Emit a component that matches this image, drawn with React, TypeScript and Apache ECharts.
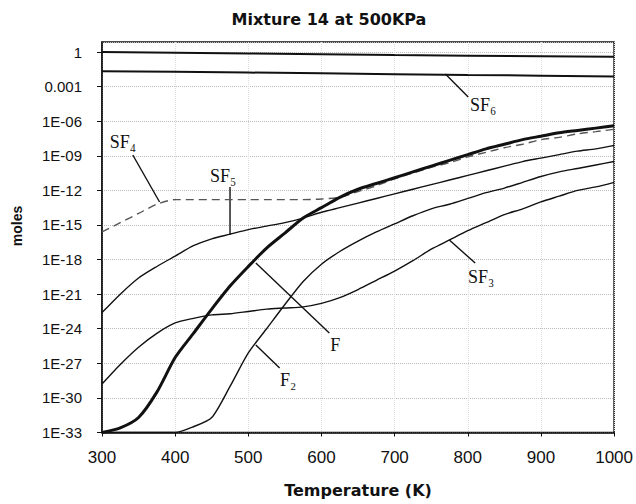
import React, { useEffect, useRef } from "react";
import * as echarts from "echarts";

// Temperatures (K)
const temperaturesFine = [300, 325, 350, 375, 400, 425, 450, 475, 500, 525, 550, 575, 600, 625, 650, 675, 700, 725, 750, 775, 800, 825, 850, 875, 900, 925, 950, 975, 1000];
const temperaturesCoarse = [300, 400, 500, 600, 700, 800, 900, 1000];

// Values are log10(moles)
const logTopLine = [0, -0.06, -0.12, -0.19, -0.26, -0.32, -0.37, -0.42];
const logSF6 = [-1.67, -1.72, -1.78, -1.85, -1.92, -1.99, -2.05, -2.12];
const logSF4 = [-15.6, -14.8, -14.0, -13.2, -12.8, -12.8, -12.8, -12.8, -12.8, -12.8, -12.8, -12.8, -12.75, -12.6, -12.1, -11.6, -11.0, -10.5, -10.0, -9.6, -9.1, -8.7, -8.3, -8.0, -7.6, -7.4, -7.1, -6.9, -6.7];
const logSF5 = [-22.6, -21.0, -19.6, -18.6, -17.7, -16.8, -16.2, -15.8, -15.4, -15.1, -14.8, -14.4, -13.9, -13.5, -13.1, -12.7, -12.3, -11.9, -11.5, -11.1, -10.7, -10.3, -9.9, -9.5, -9.2, -8.9, -8.6, -8.4, -8.1];
const logF = [-33, -32.6, -31.7, -29.5, -26.5, -24.4, -22.3, -20.3, -18.6, -17.0, -15.7, -14.4, -13.5, -12.6, -11.9, -11.4, -10.9, -10.4, -9.9, -9.4, -8.9, -8.4, -8.0, -7.6, -7.3, -7.0, -6.8, -6.6, -6.4];
const logF2 = [-33, -33, -33, -33, -33, -32.5, -31.7, -29.0, -26.1, -24.0, -21.9, -19.9, -18.4, -17.3, -16.4, -15.6, -14.9, -14.2, -13.6, -13.2, -12.7, -12.2, -11.8, -11.3, -10.8, -10.4, -10.1, -9.8, -9.5];
const logSF3 = [-28.8, -27.1, -25.6, -24.4, -23.5, -23.1, -22.8, -22.7, -22.5, -22.3, -22.2, -22.1, -21.8, -21.3, -20.6, -19.8, -19.0, -18.1, -17.1, -16.3, -15.5, -14.8, -14.1, -13.6, -13.0, -12.5, -12.0, -11.7, -11.3];

// Tick labels (log axis, every 3 decades)
const yTickLabels = ["1E-33", "1E-30", "1E-27", "1E-24", "1E-21", "1E-18", "1E-15", "1E-12", "1E-09", "1E-06", "0.001", "1"];

const Y_MIN = -33;
const Y_MAX = 0.87;
const Y_STEP = 3;

// Annotation placements in data coordinates [T, log10(moles)]
const annotations = [
  { text: "SF₆", anchor: [769.4, -1.91], end: [800.6, -3.9], label: [821, -4.6] },
  { text: "SF₄", anchor: [378.7, -13.01], end: [342.1, -8.93], label: [328.5, -7.81] },
  { text: "SF₅", anchor: [475, -15.87], end: [475, -11.71], label: [465.5, -10.75] },
  { text: "F", anchor: [510.3, -18.3], end: [610.7, -24.37], label: [618.8, -25.41] },
  { text: "F₂", anchor: [510.3, -25.41], end: [542.8, -27.41], label: [554.4, -28.45] },
  { text: "SF₃", anchor: [774.8, -16.31], end: [810.1, -18.3], label: [818.2, -19.51] },
];

const pairs = (xs: number[], ys: number[]) => xs.map((x, i) => [x, ys[i]]);

const lineSeries = (name: string, xs: number[], ys: number[], width: number, smooth: number, extra: any = {}) => ({
  name,
  type: "line",
  data: pairs(xs, ys),
  symbol: "none",
  silent: true,
  clip: true,
  smooth,
  lineStyle: { color: "#111", width, ...extra },
});

export default function App() {
  const ref = useRef<HTMLDivElement>(null);

  useEffect(() => {
    const el = ref.current;
    if (!el) return;
    const chart = echarts.init(el, undefined, { renderer: "svg" });

    const option: any = {
      animation: false,
      backgroundColor: "#ffffff",
      title: {
        text: "Mixture 14 at 500KPa",
        left: 329,
        top: 11,
        padding: 0,
        textAlign: "center",
        textStyle: { fontFamily: "DejaVu Sans", fontWeight: "bold", fontSize: 16, color: "#111" },
      },
      grid: {
        left: 102,
        right: 18,
        top: 42,
        bottom: 71.5,
        show: true,
        borderColor: "#111",
        borderWidth: 1.5,
        backgroundColor: "transparent",
      },
      xAxis: {
        type: "value",
        min: 300,
        max: 1000,
        interval: 100,
        name: "Temperature (K)",
        nameLocation: "middle",
        nameGap: 50,
        nameTextStyle: { fontFamily: "DejaVu Sans", fontWeight: "bold", fontSize: 16, color: "#111" },
        axisLine: { show: true, onZero: false, lineStyle: { color: "#111", width: 1.5 } },
        axisTick: { show: true, inside: false, length: 4, lineStyle: { color: "#111", width: 1 } },
        axisLabel: {
          margin: 16,
          fontFamily: "Liberation Sans",
          fontSize: 17,
          color: "#111",
          formatter: (v: number) => String(v),
        },
        splitLine: { show: true, lineStyle: { color: "#dddddd", type: "dotted", width: 1 } },
      },
      yAxis: {
        type: "value",
        min: Y_MIN,
        max: Y_MAX,
        interval: Y_STEP,
        axisLine: { show: true, onZero: false, lineStyle: { color: "#111", width: 1.5 } },
        axisTick: { show: true, inside: false, length: 5, lineStyle: { color: "#111", width: 1 } },
        axisLabel: {
          margin: 20,
          fontFamily: "Liberation Sans",
          fontSize: 15,
          color: "#111",
          showMaxLabel: false,
          formatter: (v: number) => {
            const k = (v - Y_MIN) / Y_STEP;
            if (Math.abs(k - Math.round(k)) > 1e-6) return "";
            return yTickLabels[Math.round(k)] ?? "";
          },
        },
        splitLine: { show: true, lineStyle: { color: "#bbbbbb", type: "dotted", width: 1 } },
      },
      series: [
        lineSeries("Total", temperaturesCoarse, logTopLine, 2, 0),
        lineSeries("SF6", temperaturesCoarse, logSF6, 2, 0),
        lineSeries("SF5", temperaturesFine, logSF5, 1.4, 0.25),
        lineSeries("SF3", temperaturesFine, logSF3, 1.4, 0.25),
        lineSeries("F2", temperaturesFine, logF2, 1.4, 0.25),
        lineSeries("SF4", temperaturesFine, logSF4, 1.4, 0.25, { type: [8, 5], color: "#555" }),
        lineSeries("F", temperaturesFine, logF, 3, 0.25),
      ],
    };

    chart.setOption(option);

    const px = (p: number[]) => chart.convertToPixel({ gridIndex: 0 } as any, p) as unknown as number[];
    const graphics: any[] = [
      {
        type: "text",
        x: 16.5,
        y: 226,
        rotation: Math.PI / 2,
        silent: true,
        style: {
          text: "moles",
          fill: "#111",
          font: "bold 14px 'Liberation Sans'",
          align: "center",
          verticalAlign: "middle",
        },
      },
    ];
    annotations.forEach((a) => {
      const A = px(a.anchor);
      const E = px(a.end);
      const L = px(a.label);
      graphics.push({
        type: "line",
        silent: true,
        shape: { x1: A[0], y1: A[1], x2: E[0], y2: E[1] },
        style: { stroke: "#111", lineWidth: 1.4 },
      });
      graphics.push({
        type: "text",
        silent: true,
        x: L[0],
        y: L[1],
        style: {
          text: a.text,
          fill: "#111",
          font: "18px 'Liberation Serif', 'DejaVu Serif', serif",
          align: "center",
          verticalAlign: "middle",
        },
      });
    });
    chart.setOption({ graphic: graphics });

    return () => {
      chart.dispose();
    };
  }, []);

  return <div ref={ref} style={{ position: "absolute", left: 0, top: 0, width: 636, height: 504 }} />;
}
